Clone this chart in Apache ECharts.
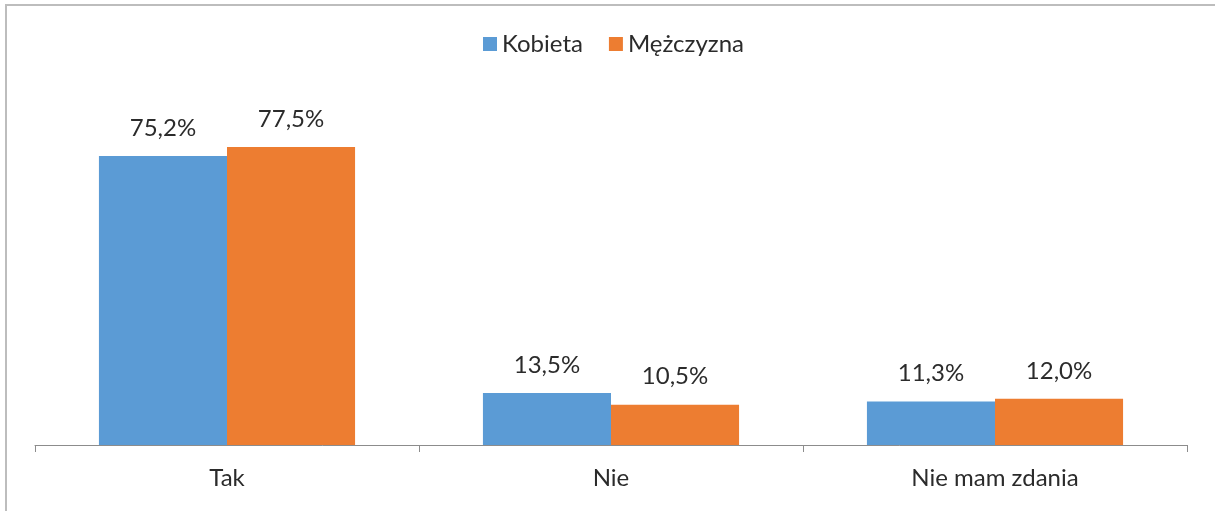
<!DOCTYPE html>
<html>
<head>
<meta charset="utf-8">
<script src="https://cdn.jsdelivr.net/npm/echarts@6/dist/echarts.min.js"></script>
<style>
  html, body { margin: 0; padding: 0; background: #fff; }
  #frame { position: absolute; left: 5px; top: 4px; right: 0; bottom: 0;
           border-top: 2px solid #bdbdbd; border-left: 2px solid #bdbdbd; }
  #chart { position: absolute; left: 0; top: 0; width: 1215px; height: 511px; }
</style>
</head>
<body>
<div id="frame"></div>
<div id="chart"></div>
<script>
// Answers to the survey question, split by gender (percent)
const categories = ['Tak', 'Nie', 'Nie mam zdania'];
const seriesNames = ['Kobieta', 'Mężczyzna'];
const kobieta = [75.2, 13.5, 11.3];
const mezczyzna = [77.5, 10.5, 12.0];

const colors = ['#5B9BD5', '#ED7D31'];
const font = 'Lato, "Open Sans", sans-serif';
const textColor = '#2b2b2b';
const fmt = v => v.toFixed(1).replace('.', ',') + '%';

const chart = echarts.init(document.getElementById('chart'), null, { renderer: 'canvas' });

function barSeries(name, data, color) {
  return {
    name: name,
    type: 'bar',
    data: data,
    barGap: '0%',
    barCategoryGap: '33.3%',
    itemStyle: { color: color },
    label: {
      show: true,
      position: 'top',
      distance: 16,
      formatter: p => fmt(p.value),
      fontFamily: font,
      fontSize: 24,
      color: textColor
    }
  };
}

chart.setOption({
  animation: false,
  color: colors,
  legend: {
    data: seriesNames,
    top: 32,
    left: 483,
    padding: 0,
    itemWidth: 14,
    itemHeight: 14,
    itemGap: 26,
    icon: 'rect',
    textStyle: { fontFamily: font, fontSize: 24, color: textColor }
  },
  grid: { left: 35, right: 28, top: 99, bottom: 66, containLabel: false },
  xAxis: {
    type: 'category',
    data: categories,
    axisLine: { lineStyle: { color: '#8c8c8c', width: 1 } },
    axisTick: { show: true, length: 7, lineStyle: { color: '#8c8c8c' } },
    axisLabel: { fontFamily: font, fontSize: 24, color: textColor, margin: 21 }
  },
  yAxis: {
    type: 'value',
    min: 0,
    max: 90,
    interval: 10,
    show: false,
    splitLine: { show: false }
  },
  series: [
    barSeries(seriesNames[0], kobieta, colors[0]),
    barSeries(seriesNames[1], mezczyzna, colors[1])
  ]
});
</script>
</body>
</html>
